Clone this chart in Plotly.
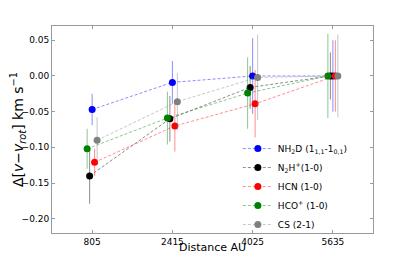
import plotly.graph_objects as go

distances = [805, 2415, 4025, 5635]
tick_labels = ["805", "2415", "4025", "5635"]

species = ["NH<sub>2</sub>D (1<sub>1,1</sub>-1<sub>0,1</sub>)",
           "N<sub>2</sub>H<sup>+</sup>(1-0)",
           "HCN (1-0)",
           "HCO<sup>+</sup> (1-0)",
           "CS (2-1)"]
offsets = [0, -50, 50, -100, 100]

nh2d = [-0.047, -0.009, 0.000, 0.000]
nh2d_err = [0.022, 0.030, 0.053, 0.050]
n2hp = [-0.140, -0.060, -0.016, 0.000]
n2hp_err = [0.039, 0.032, 0.030, 0.033]
hcn = [-0.121, -0.070, -0.039, 0.000]
hcn_err = [0.019, 0.036, 0.047, 0.050]
hcop = [-0.102, -0.059, -0.024, 0.000]
hcop_err = [0.028, 0.037, 0.050, 0.059]
cs = [-0.090, -0.036, -0.002, 0.000]
cs_err = [0.032, 0.040, 0.060, 0.058]

values = [nh2d, n2hp, hcn, hcop, cs]
errors = [nh2d_err, n2hp_err, hcn_err, hcop_err, cs_err]
colors = ["#0000ff", "#000000", "#ff0000", "#008000", "#808080"]
faded = ["rgba(0,0,255,0.45)", "rgba(0,0,0,0.45)", "rgba(255,0,0,0.45)",
         "rgba(0,128,0,0.45)", "rgba(128,128,128,0.45)"]

fig = go.Figure()
for name, off, vals, errs, col, fcol in zip(species, offsets, values, errors, colors, faded):
    fig.add_trace(go.Scatter(
        x=[d + off for d in distances], y=vals,
        mode="lines+markers", name=name,
        line=dict(color=fcol, width=1, dash="3px,2px"),
        marker=dict(color=col, size=7, line=dict(width=0)),
        error_y=dict(type="data", array=errs, visible=True,
                     color=fcol, thickness=1, width=0),
    ))

axis_common = dict(showline=True, linecolor="#9a9a9a", linewidth=1, mirror="allticks",
                   ticks="inside", ticklen=3, tickcolor="#9a9a9a", showgrid=False,
                   zeroline=False, tickfont=dict(family="DejaVu Sans", size=9, color="#000"))

fig.update_xaxes(range=[0, 6440], tickvals=distances, ticktext=tick_labels,
                 automargin=False, **axis_common)
fig.update_yaxes(range=[-0.22, 0.07], tickvals=[-0.20, -0.15, -0.10, -0.05, 0.0, 0.05],
                 tickformat=".2f",
                 title=dict(text="Δ[<i>v</i>−<i>v</i><sub><i>rot</i></sub>] km s<sup>−1</sup>",
                            font=dict(family="DejaVu Sans", size=14, color="#000"), standoff=1),
                 automargin=False, **axis_common)

fig.add_annotation(text="Distance AU", xref="paper", yref="paper", x=0.5, y=0,
                   xanchor="center", yanchor="middle", yshift=-14, showarrow=False,
                   font=dict(family="DejaVu Sans", size=11, color="#000"))

fig.update_layout(
    width=407, height=251,
    margin=dict(l=44, r=42, t=18, b=26),
    paper_bgcolor="white", plot_bgcolor="white",
    showlegend=True,
    legend=dict(x=0.579, y=0.478, xanchor="left", yanchor="top",
                font=dict(family="DejaVu Sans", size=9, color="#000"),
                bgcolor="rgba(0,0,0,0)", borderwidth=0, tracegroupgap=0),
)

fig.write_html("out.html")
